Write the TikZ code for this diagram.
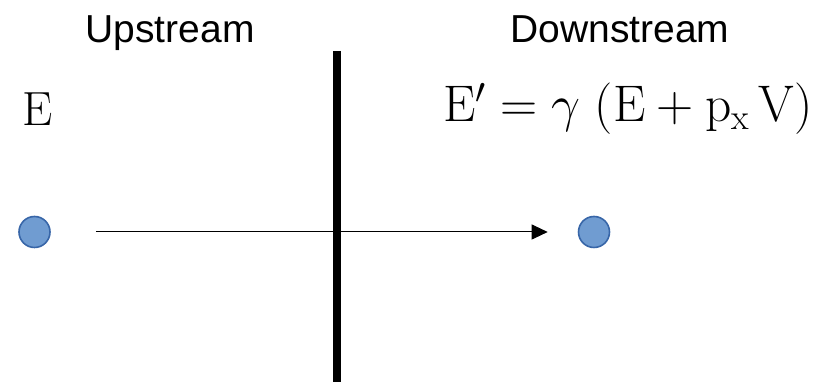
\documentclass[tikz,border=0pt]{standalone}
\usepackage{fix-cm}
\usepackage{amsmath}
\usepackage{fontspec}
\newfontfamily\labelfont{Liberation Sans}
\usetikzlibrary{arrows.meta,positioning}
\usepackage{xcolor}
\definecolor{ballfill}{RGB}{112,156,209}
\definecolor{balledge}{RGB}{56,102,168}

\begin{document}
\begin{tikzpicture}[x=1pt, y=1pt]
\tikzset{
  ball/.style={circle, draw=balledge, fill=ballfill, line width=1.6pt, minimum size=31pt, inner sep=0pt},
  side/.style={anchor=base, font=\labelfont\fontsize{39}{44}\selectfont},
  arr/.style={-{Triangle[length=16pt, width=15pt]}, line width=1pt},
}
\useasboundingbox (0,0) rectangle (827,382);
\node[side] (up) at (170,339) {Upstream};
\node[side] (down) at (620,339) {Downstream};
\node[anchor=base west, inner sep=0pt, font=\fontsize{48}{52}\selectfont] (ein) at (22,256) {$\mathrm{E}$};
\node[anchor=base west, inner sep=0pt, font=\fontsize{51.5}{56}\selectfont] (eout) at (443,260)
  {$\mathrm{E}' = \gamma\;(\mathrm{E} + \mathrm{p_x}\,\mathrm{V})$};
\node[ball] (p1) at (34.5,150) {};
\node[ball] (p2) at (594,150) {};
\coordinate (top) at (337,331);
\coordinate (bot) at (337,-2);
\draw[line width=8pt] (top) -- (bot);
\draw[arr, shorten <=45pt, shorten >=30pt] (p1) -- (p2);
\end{tikzpicture}
\end{document}
